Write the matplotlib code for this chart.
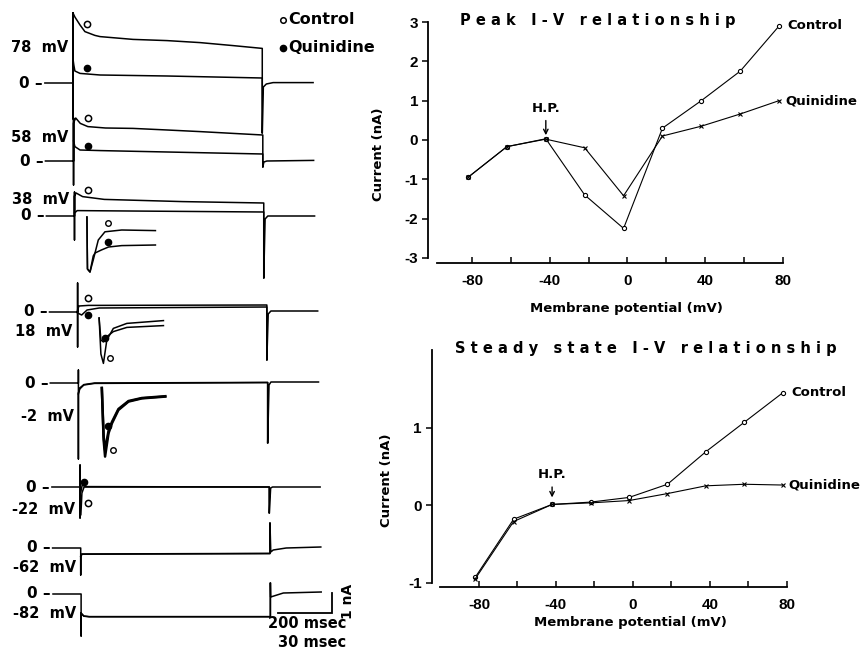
import matplotlib.pyplot as plt

plt.rcParams['font.family'] = 'DejaVu Sans'
plt.rcParams['font.weight'] = 'bold'
plt.rcParams['axes.linewidth'] = 1.3

# ---------------- I-V data ----------------
potential_mv = [-82, -62, -42, -22, -2, 18, 38, 58, 78]
peak_control = [-0.95, -0.17, 0.03, -1.40, -2.25, 0.30, 1.00, 1.75, 2.90]
peak_quinidine = [-0.95, -0.17, 0.02, -0.20, -1.42, 0.10, 0.35, 0.66, 1.00]
steady_control = [-0.93, -0.18, 0.01, 0.04, 0.10, 0.27, 0.69, 1.07, 1.45]
steady_quinidine = [-0.95, -0.21, 0.01, 0.03, 0.06, 0.15, 0.25, 0.27, 0.26]
holding_mv = -42
volt_ticks = [-80, -40, 0, 40, 80]
volt_minor = [-60, -20, 20, 60]
peak_ticks = [-3, -2, -1, 0, 1, 2, 3]
steady_ticks = [-1, 0, 1]

# ---------------- current records ----------------
step_mv = [78, 58, 38, 18, -2, -22, -62, -82]
pulse_ms = 700

# (time ms, current nA) during the pulse
ctrl_78 = [(0, 3.5), (7, 3.3), (26, 2.9), (44, 2.57), (81, 2.38), (100, 2.32),
           (222, 2.18), (348, 2.12), (470, 2.02), (592, 1.87), (700, 1.73)]
quin_78 = [(0, 1.2), (3, 0.9), (7, 0.6), (26, 0.48), (100, 0.4), (348, 0.35), (700, 0.25)]
ctrl_58 = [(0, 1.9), (8, 2.15), (25, 1.88), (53, 1.72), (118, 1.65), (220, 1.63),
           (347, 1.55), (468, 1.47), (590, 1.38), (700, 1.3)]
quin_58 = [(0, 1.0), (5, 0.72), (24, 0.55), (100, 0.52), (347, 0.45), (700, 0.35)]
ctrl_38 = [(0, 1.0), (6, 1.15), (30, 0.97), (110, 0.83), (400, 0.72), (700, 0.65)]
quin_38 = [(0, 0.15), (10, 0.27), (200, 0.25), (700, 0.2)]
ctrl_18 = [(0, 0.1), (5, 0.3), (40, 0.33), (700, 0.35)]
quin_18 = [(0, -0.05), (15, -0.15), (35, 0.1), (80, 0.2), (700, 0.25)]
ctrl_m2 = [(0, -0.5), (5, -0.25), (20, -0.08), (60, 0.0), (700, 0.03)]
quin_m2 = [(0, -0.55), (5, -0.3), (20, -0.1), (60, -0.02), (700, 0.02)]
ctrl_m22 = [(0, 0.0), (3, -1.4), (7, -0.3), (15, 0.0), (700, 0.0)]
quin_m22 = [(0, 0.0), (3, -0.25), (8, 0.1), (20, 0.02), (700, 0.0)]
ctrl_m62 = [(0, -0.4), (5, -0.3), (700, -0.27)]
quin_m62 = [(0, -0.42), (5, -0.31), (700, -0.28)]
ctrl_m82 = [(0, -0.95), (10, -1.1), (30, -1.13), (700, -1.13)]
quin_m82 = [(0, -0.97), (10, -1.11), (30, -1.14), (700, -1.14)]

# capacitive transients at pulse on / off (nA)
on_spike_up = [3.5, 2.15, 1.2, 1.45, 0.65, 1.1, 0.0, 0.0]
on_spike_down = [-1.8, -1.2, -1.2, -1.75, -3.8, -1.55, -1.35, -2.1]
off_spike = [-2.5, -0.3, -3.1, -2.4, -3.0, -1.3, 1.25, 0.55]

# tail currents after the pulse (time ms, current nA)
tail_78 = [(704, -0.2), (715, -0.05), (740, 0.02), (888, 0.02)]
tail_58 = [(704, -0.05), (715, 0.0), (888, 0.03)]
tail_38 = [(705, -0.15), (715, 0.0), (888, 0.0)]
tail_18 = [(705, -0.1), (715, 0.05), (888, 0.05)]
tail_m2 = [(705, -0.1), (712, 0.05), (888, 0.05)]
tail_m22 = [(705, -0.05), (712, 0.0), (888, 0.0)]
tail_m62 = [(703, -0.2), (712, -0.1), (760, 0.0), (888, 0.05)]
tail_m82 = [(701, -0.15), (748, 0.05), (888, 0.1)]

# fast sweeps (30 ms time base): (time ms, current nA)
fast_ctrl_38 = [(0, 0), (0.3, -2.6), (1.7, -2.75), (3.5, -2.15), (6.3, -1.15),
                (10, -0.74), (19.3, -0.65), (38, -0.68)]
fast_quin_38 = [(0, 0), (0.3, -2.6), (1.7, -2.75), (3.5, -1.95), (4.5, -1.8), (8, -1.65),
                (12, -1.5), (19.3, -1.43), (38, -1.4)]
fast_ctrl_18 = [(0, 0), (1, -1.8), (2.4, -2.27), (4.3, -1.1), (7.9, -0.52),
                (15.4, -0.27), (35.7, -0.13)]
fast_quin_18 = [(0, 0), (1, -1.1), (2.4, -1.2), (3.3, -1.0), (7.9, -0.68),
                (15.4, -0.47), (35.7, -0.38)]
fast_ctrl_m2 = [(0, 0), (1, -2.6), (1.8, -3.43), (3.7, -2.27), (5.6, -1.77), (9.2, -1.1),
                (14.8, -0.68), (22.2, -0.52), (35.2, -0.43)]
fast_quin_m2 = [(0, 0), (1, -2.4), (1.8, -3.1), (3.7, -2.15), (5.6, -1.7), (9.2, -1.05),
                (14.8, -0.65), (22.2, -0.5), (35.2, -0.41)]

# symbol positions on the records (time ms, current nA)
mark_ctrl = {78: (53, 2.93), 58: (55, 2.13), 38: (51, 1.3), 18: (40, 0.72), -22: (31, -0.8)}
mark_quin = {78: (53, 0.73), 58: (55, 0.77), 18: (40, -0.15), -22: (16, 0.27)}
fast_mark_ctrl = {38: (11.8, -0.32), 18: (6.1, -2.0), -2: (6.4, -3.1)}
fast_mark_quin = {38: (11.8, -1.24), 18: (3.3, -1.0), -2: (3.7, -1.9)}

ctrl_records = [ctrl_78, ctrl_58, ctrl_38, ctrl_18, ctrl_m2, ctrl_m22, ctrl_m62, ctrl_m82]
quin_records = [quin_78, quin_58, quin_38, quin_18, quin_m2, quin_m22, quin_m62, quin_m82]
tails = [tail_78, tail_58, tail_38, tail_18, tail_m2, tail_m22, tail_m62, tail_m82]
fast_ctrl = {38: fast_ctrl_38, 18: fast_ctrl_18, -2: fast_ctrl_m2}
fast_quin = {38: fast_quin_38, 18: fast_quin_18, -2: fast_quin_m2}

# ---------------- layout of the stacked records ----------------
trace_y0 = [-4.15, -8.05, -10.8, -15.6, -19.15, -24.35, -27.4, -29.7]
trace_shift = [0, 2, 5.5, 17, 20, 26, 28.5, 30]
label_dy = [1.77, 1.2, 0.8, -1.0, -1.7, -1.15, -0.95, -0.95]
fast_delay = {38: 46, 18: 79.5, -2: 86.6}
fast_dy = {38: -0.05, 18: -0.3, -2: -0.25}
fast_scale = 200 / 30   # 30 ms of fast sweep drawn as long as 200 ms
pre_ms = -104

fig = plt.figure(figsize=(8.61, 6.53), dpi=100)

ax = fig.add_axes([0, 0, 345 / 861, 1])
ax.set_xlim(-270, 1006)
ax.set_ylim(-32.65, 0)
ax.axis('off')

LW = 1.1
for k, mv in enumerate(step_mv):
    x0, y0 = trace_shift[k], trace_y0[k]
    c = ctrl_records[k]
    pts = ([(pre_ms, 0), (0, 0), (0, on_spike_up[k]), (0, on_spike_down[k])] + c
           + [(pulse_ms, off_spike[k])] + tails[k])
    ax.plot([x0 + t for t, _ in pts], [y0 + i for _, i in pts], color='k', lw=LW)
    q = quin_records[k] + [(pulse_ms, off_spike[k])]
    ax.plot([x0 + t for t, _ in q], [y0 + i for _, i in q], color='k', lw=LW)

    ax.text(x0 + pre_ms - 8, y0, '0 \u2013', ha='right', va='center', fontsize=11)
    ax.text(x0 - 18, y0 + label_dy[k], f'{mv}  mV', ha='right', va='center', fontsize=10.5)

    if mv in mark_ctrl:
        t, i = mark_ctrl[mv]
        ax.plot(x0 + t, y0 + i, 'o', ms=4.5, mfc='white', mec='k', mew=1.1)
    if mv in mark_quin:
        t, i = mark_quin[mv]
        ax.plot(x0 + t, y0 + i, 'o', ms=4.5, color='k')

    if mv in fast_ctrl:
        fx = x0 + fast_delay[mv]
        fy = y0 + fast_dy[mv]
        lw_fast = 1.8 if mv == -2 else LW
        for rec in (fast_ctrl[mv], fast_quin[mv]):
            ax.plot([fx + t * fast_scale for t, _ in rec], [fy + i for _, i in rec],
                    color='k', lw=lw_fast)
        t, i = fast_mark_ctrl[mv]
        ax.plot(fx + t * fast_scale, fy + i, 'o', ms=4, mfc='white', mec='k', mew=1.0)
        t, i = fast_mark_quin[mv]
        ax.plot(fx + t * fast_scale, fy + i, 'o', ms=4.5, color='k')

# legend for the records
ax.plot(777, -1.0, 'o', ms=4, mfc='white', mec='k', mew=1.1, clip_on=False)
ax.text(797, -1.0, 'Control', ha='left', va='center', fontsize=11.5)
ax.plot(777, -2.4, 'o', ms=4.5, color='k', clip_on=False)
ax.text(797, -2.4, 'Quinidine', ha='left', va='center', fontsize=11.5)

# calibration bars: 1 nA, 200 ms (30 ms for the fast sweeps)
bar_x1, bar_y = 958, -30.65
ax.plot([bar_x1 - 200, bar_x1, bar_x1], [bar_y, bar_y, bar_y + 1], color='k', lw=1.3,
        solid_joinstyle='miter', clip_on=False)
ax.text(1018, bar_y + 0.6, '1 nA', rotation=90, ha='center', va='center', fontsize=10)
ax.text(1010, bar_y - 0.15, '200 msec', ha='right', va='top', fontsize=10.5)
ax.text(1010, bar_y - 1.1, '30 msec', ha='right', va='top', fontsize=10.5)


# ---------------- I-V panels ----------------
def iv_panel(rect, xlim, ylim, ctrl, quin, yticks, ybounds, title, tx, hp_y, arrow_y,
             xlab_y, ylab_x):
    a = fig.add_axes(rect)
    a.plot(potential_mv, ctrl, color='k', lw=0.8, marker='o', ms=3, mfc='white',
           mec='k', mew=0.8, clip_on=False)
    a.plot(potential_mv, quin, color='k', lw=0.8, marker='x', ms=3.5, mew=0.8,
           clip_on=False)
    a.set_xlim(*xlim)
    a.set_ylim(*ylim)
    for s in ('top', 'right'):
        a.spines[s].set_visible(False)
    a.spines['left'].set_bounds(*ybounds)
    a.spines['bottom'].set_bounds(xlim[0] + 4.5, 80)
    a.set_xticks(volt_ticks)
    a.set_xticklabels([str(v) for v in volt_ticks])
    a.set_xticks(volt_minor, minor=True)
    a.set_yticks(yticks)
    a.set_yticklabels([str(v) for v in yticks])
    a.tick_params(axis='x', which='both', direction='in', length=4, width=1.1, pad=8)
    a.tick_params(axis='y', direction='out', length=4, width=1.1, pad=3)
    for lab in a.get_xticklabels() + a.get_yticklabels():
        lab.set_fontfamily('Liberation Sans')
        lab.set_fontweight('bold')
        lab.set_fontsize(11)
    a.set_xlabel('Membrane potential (mV)', fontsize=9.5, fontweight='bold')
    a.xaxis.set_label_coords(0.56, xlab_y)
    a.set_ylabel('Current (nA)', fontsize=9.5, fontweight='bold')
    a.yaxis.set_label_coords(ylab_x, 0.45)
    a.text(tx, 1.008, title, transform=a.transAxes, ha='left', va='center', fontsize=10.5)
    a.text(potential_mv[-1] + 4.5, ctrl[-1], 'Control', ha='left', va='center', fontsize=9.5)
    a.text(potential_mv[-1] + 3, quin[-1], 'Quinidine', ha='left', va='center', fontsize=9.5)
    a.annotate('H.P.', xy=(holding_mv, arrow_y[1]), xytext=(holding_mv, hp_y),
               ha='center', va='center', fontsize=9.5,
               arrowprops=dict(arrowstyle='->', color='k', lw=1.0, shrinkA=2, shrinkB=0,
                               mutation_scale=8))
    return a


iv_panel([428 / 861, 1 - 263 / 653, 355 / 861, 241 / 653], (-102.6, 80), (-3.13, 3.0),
         peak_control, peak_quinidine, peak_ticks, (-3, 3),
         'P e a k   I - V   r e l a t i o n s h i p', 0.09, 0.8, (0.5, 0.12),
         -0.16, -0.12)

iv_panel([431.7 / 861, 1 - 586.7 / 653, 355 / 861, 236.7 / 653], (-104.6, 80), (-1.05, 2.0),
         steady_control, steady_quinidine, steady_ticks, (-1, 2),
         'S t e a d y   s t a t e   I - V   r e l a t i o n s h i p', 0.066, 0.39, (0.3, 0.1),
         -0.125, -0.11)

fig.savefig('out.png', dpi=100)
